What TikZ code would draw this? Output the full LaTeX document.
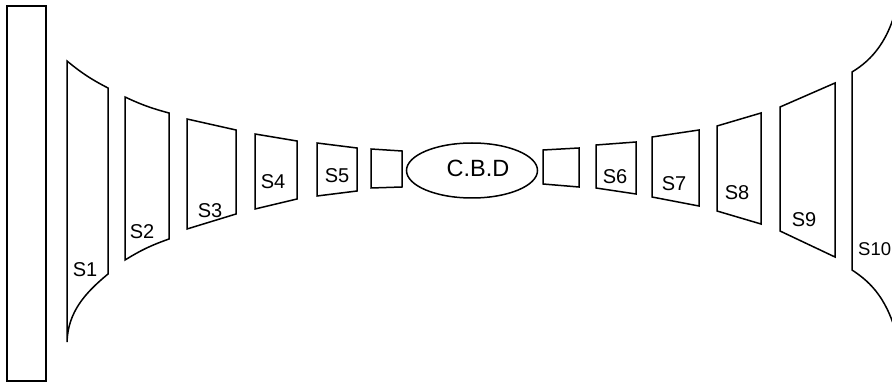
\documentclass[tikz,border=0pt]{standalone}
\usepackage{fontspec}
\setmainfont{Liberation Sans}
\usetikzlibrary{shapes.geometric}
\begin{document}
\begin{tikzpicture}[x=1pt,y=-1pt,
  outline/.style={draw=black,line width=1.5pt,line join=miter},
  slabel/.style={font=\fontsize{20}{24}\selectfont,inner sep=0pt},
  cbdlabel/.style={font=\fontsize{23.5}{28}\selectfont,inner sep=0pt}]
\useasboundingbox (0,0) rectangle (892,382);
\clip (0,0) rectangle (892,382);
% left bar
\draw[outline] (7,6) rectangle (46,381);
% S1
\draw[outline] (67,342) -- (67,61) to[bend right=6] (108,88) -- (108,274)
  .. controls (85,293) and (68,312) .. (67,342);
% S2
\draw[outline] (125,260) -- (125,97) to[bend right=5] (169,113) -- (169,239) to[bend right=6] cycle;
% S3
\draw[outline] (187,229) -- (187,119) -- (236,130) -- (236,214) -- cycle;
% S4
\draw[outline] (255,209) -- (255,134) -- (297,141) -- (297,199) -- cycle;
% S5
\draw[outline] (317,196) -- (317,143) -- (357,148) -- (357,191) -- cycle;
% small left box
\draw[outline] (371,188) -- (371,149) -- (402,151) -- (402,187) -- cycle;
% CBD
\node[ellipse,outline,minimum width=131pt,minimum height=55pt,inner sep=0pt] (cbd) at (472,170.5) {};
\node[cbdlabel] (cbdtext) at (478,168) {C.B.D};
% small right box
\draw[outline] (543,184) -- (543,150) -- (579,148) -- (579,187) -- cycle;
% S6
\draw[outline] (596,188) -- (596,145) -- (636,142) -- (636,194) -- cycle;
% S7
\draw[outline] (652,197) -- (652,137) -- (699,130) -- (699,206) -- cycle;
% S8
\draw[outline] (717,211) -- (717,126) -- (761,113) -- (761,224) -- cycle;
% S9
\draw[outline] (780,231) -- (780,107) -- (835,83) -- (835,257) -- cycle;
% S10
\draw[outline] (898,0) .. controls (890,40) and (872,60) .. (852,72) -- (852,270)
  .. controls (872,283) and (888,300) .. (898,340);
% labels
\node[slabel] (s1) at (85,270) {S1};
\node[slabel] (s2) at (142,232) {S2};
\node[slabel] (s3) at (210,211) {S3};
\node[slabel] (s4) at (273,182) {S4};
\node[slabel] (s5) at (337,176) {S5};
\node[slabel] (s6) at (615,177) {S6};
\node[slabel] (s7) at (674,184) {S7};
\node[slabel] (s8) at (737,193) {S8};
\node[slabel] (s9) at (804,220) {S9};
\node[slabel,font=\fontsize{18.5}{22}\selectfont,anchor=west] (s10) at (858,249) {S10};
\end{tikzpicture}
\end{document}
